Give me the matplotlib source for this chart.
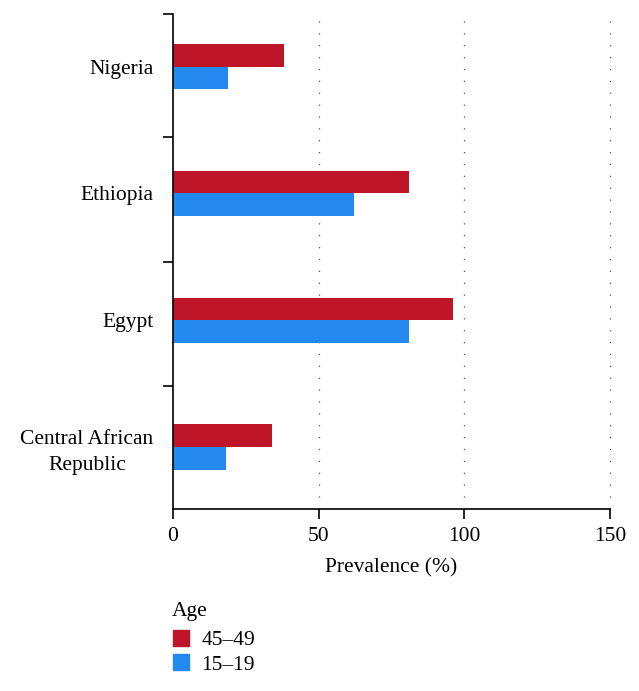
import numpy as np
import matplotlib
matplotlib.use('Agg')
import matplotlib.pyplot as plt
from matplotlib.patches import Patch

countries = ['Central African\nRepublic', 'Egypt', 'Ethiopia', 'Nigeria']
age_45_49 = [34.1, 96.0, 81.1, 38.1]
age_15_19 = [18.1, 81.0, 62.0, 19.0]
xticks = [0, 50, 100, 150]

red = '#BF1529'
blue = '#2389EF'

plt.rcParams['font.family'] = ['Liberation Serif', 'DejaVu Serif']
plt.rcParams['font.size'] = 15.5

fig = plt.figure(figsize=(6.39, 6.91), dpi=100)
ax = fig.add_axes([0.2707, 0.2634, 0.684, 0.7163])

y = np.arange(len(countries))
h = 0.178
ax.barh(y + h / 2, age_45_49, height=h, color=red, label='45–49')
ax.barh(y - h / 2, age_15_19, height=h, color=blue, label='15–19')

ax.set_xlim(0, 150)
ax.set_ylim(-0.489, 3.415)
ax.set_xticks(xticks)
ax.set_xticklabels([str(t) for t in xticks])
ax.set_yticks(y)
ax.set_yticklabels(countries)
for lab in ax.get_yticklabels():
    lab.set_multialignment('center')
    lab.set_linespacing(1.45)
ax.tick_params(axis='y', which='major', length=0, pad=14)
ax.set_yticks([0.481, 1.459, 2.445, 3.415], minor=True)
ax.tick_params(axis='y', which='minor', length=7, width=1.2, direction='out')
ax.tick_params(axis='x', length=7, width=1.2, direction='out', pad=6)

for t in [50, 100, 150]:
    ax.axvline(t, color='#555555', linestyle=(0, (1, 8.5)), linewidth=0.9,
               zorder=0, clip_on=False)

ax.spines['top'].set_visible(False)
ax.spines['right'].set_visible(False)
ax.spines['left'].set_linewidth(1.2)
ax.spines['bottom'].set_linewidth(1.2)

ax.set_xlabel('Prevalence (%)', labelpad=9)

# legend title drawn separately so its gap to the rows can be set freely
fig.text(0.269, 0.1144, 'Age', ha='left', va='center')
handles = [Patch(color=red, label='45–49'), Patch(color=blue, label='15–19')]
leg = fig.legend(handles=handles, loc='upper left',
                 bbox_to_anchor=(0.271, 0.0883), frameon=False,
                 handlelength=0.75, handleheight=0.75,
                 handletextpad=0.55, labelspacing=0.18,
                 borderaxespad=0, borderpad=0)

fig.savefig('out.png', dpi=100)
